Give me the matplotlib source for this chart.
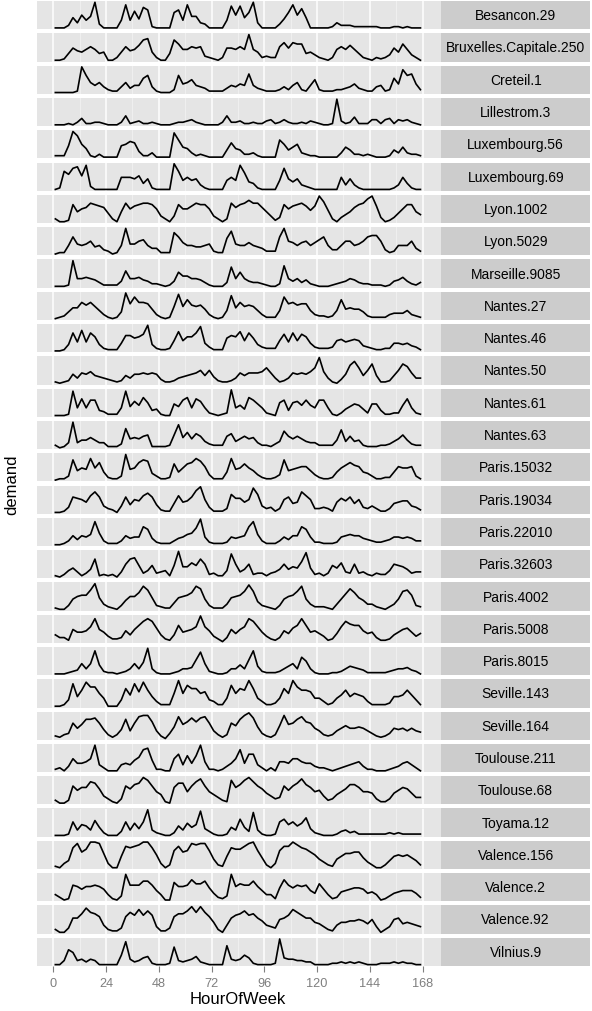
import numpy as np
import matplotlib
matplotlib.use("Agg")
import matplotlib.pyplot as plt

plt.rcParams['font.family'] = ['Liberation Sans', 'DejaVu Sans']

# readings every 2 hours (hour 1, 3, ... 167), one row per day, relative demand 0-20
hours = np.arange(1, 168, 2)

besancon_29 = [0, 0, 0, 2, 8, 4, 10, 6, 9, 20, 3, 0,
               0, 0, 0, 6, 18, 6, 13, 7, 16, 14, 1, 0,
               0, 0, 0, 12, 14, 6, 18, 9, 9, 4, 3, 0,
               0, 0, 0, 6, 17, 10, 17, 8, 12, 20, 4, 0,
               0, 0, 0, 3, 7, 12, 18, 10, 15, 8, 0, 0,
               0, 0, 0, 1, 4, 2, 2, 2, 1, 1, 1, 1,
               1, 1, 0, 0, 0, 1, 1, 0, 1, 0, 0, 0]
bruxelles_250 = [1, 1, 2, 6, 10, 8, 7, 9, 11, 9, 6, 7,
                 1, 1, 3, 7, 11, 8, 9, 12, 16, 17, 7, 3,
                 1, 1, 6, 16, 13, 9, 9, 11, 10, 11, 4, 3,
                 2, 1, 3, 10, 10, 9, 11, 9, 20, 9, 7, 3,
                 4, 3, 3, 11, 14, 10, 14, 13, 13, 6, 7, 5,
                 3, 2, 1, 3, 9, 11, 9, 12, 9, 6, 3, 2,
                 1, 3, 2, 3, 5, 10, 7, 13, 9, 5, 3, 1]
creteil_1 = [0, 0, 0, 0, 0, 1, 18, 12, 7, 5, 7, 4,
             2, 1, 1, 4, 7, 3, 5, 5, 10, 12, 4, 1,
             0, 0, 0, 2, 12, 6, 7, 9, 5, 4, 3, 1,
             1, 1, 1, 3, 5, 4, 6, 5, 13, 5, 3, 2,
             1, 1, 1, 2, 4, 2, 5, 7, 2, 1, 5, 9,
             2, 1, 1, 1, 2, 2, 3, 4, 6, 3, 2, 1,
             1, 4, 5, 1, 2, 10, 6, 16, 12, 13, 6, 2]
lillestrom_3 = [0, 0, 0, 1, 0, 2, 5, 1, 1, 2, 2, 1,
                0, 0, 0, 2, 7, 1, 2, 3, 1, 1, 2, 1,
                0, 0, 0, 1, 2, 2, 3, 4, 2, 1, 0, 0,
                0, 0, 2, 7, 2, 2, 3, 1, 1, 2, 1, 1,
                3, 4, 1, 2, 4, 2, 1, 1, 2, 1, 3, 2,
                1, 0, 0, 1, 20, 3, 1, 2, 6, 1, 1, 1,
                4, 4, 1, 4, 5, 1, 4, 3, 4, 2, 1, 0]
luxembourg_56 = [1, 1, 1, 8, 18, 15, 9, 6, 1, 0, 2, 0,
                 0, 0, 0, 8, 9, 11, 10, 4, 1, 1, 3, 0,
                 0, 0, 0, 17, 12, 7, 6, 3, 1, 2, 1, 0,
                 0, 0, 0, 5, 10, 6, 5, 2, 2, 3, 1, 0,
                 0, 0, 0, 12, 9, 5, 7, 9, 3, 2, 1, 1,
                 0, 0, 0, 0, 0, 3, 7, 5, 2, 2, 1, 2,
                 1, 0, 0, 0, 1, 5, 3, 7, 3, 2, 2, 1]
luxembourg_69 = [0, 1, 12, 10, 14, 15, 9, 16, 2, 0, 0, 0,
                 0, 0, 0, 8, 8, 8, 7, 9, 4, 7, 1, 0,
                 0, 0, 0, 17, 12, 6, 8, 6, 7, 3, 1, 0,
                 0, 0, 0, 6, 8, 6, 16, 11, 5, 4, 1, 0,
                 0, 0, 0, 6, 14, 7, 5, 7, 3, 2, 1, 0,
                 0, 0, 0, 0, 0, 8, 3, 7, 3, 1, 0, 0,
                 0, 0, 0, 0, 0, 1, 3, 8, 4, 1, 0, 0]
lyon_1002 = [3, 1, 1, 2, 13, 8, 10, 11, 14, 13, 12, 11,
             7, 3, 1, 8, 14, 10, 12, 13, 14, 14, 13, 10,
             5, 3, 1, 5, 13, 10, 10, 12, 14, 13, 13, 10,
             5, 3, 1, 3, 14, 11, 13, 14, 16, 14, 14, 11,
             8, 5, 2, 4, 13, 10, 12, 13, 14, 12, 9, 12,
             19, 15, 9, 3, 1, 4, 6, 8, 11, 13, 14, 17,
             19, 12, 4, 1, 2, 4, 7, 10, 13, 13, 8, 6]
lyon_5029 = [0, 1, 1, 6, 12, 7, 6, 7, 9, 5, 6, 3,
             2, 0, 1, 6, 18, 7, 7, 9, 10, 6, 4, 4,
             1, 1, 1, 15, 12, 8, 6, 6, 5, 5, 6, 7,
             2, 1, 1, 11, 16, 7, 6, 6, 8, 6, 5, 4,
             2, 2, 2, 12, 18, 9, 8, 6, 8, 9, 6, 8,
             10, 12, 6, 3, 3, 6, 9, 9, 6, 7, 9, 12,
             13, 13, 9, 3, 1, 2, 6, 6, 6, 9, 4, 2]
marseille_9085 = [0, 0, 0, 1, 20, 6, 6, 7, 6, 5, 3, 1,
                  1, 1, 1, 4, 12, 6, 6, 7, 5, 4, 2, 2,
                  1, 0, 1, 4, 11, 8, 8, 6, 6, 5, 3, 1,
                  0, 0, 0, 3, 15, 6, 11, 6, 4, 3, 3, 2,
                  1, 0, 0, 2, 16, 6, 4, 6, 3, 5, 2, 1,
                  0, 0, 0, 1, 2, 3, 4, 6, 5, 3, 2, 2,
                  1, 1, 1, 0, 1, 4, 5, 7, 4, 2, 1, 3]
nantes_27 = [0, 1, 2, 5, 8, 8, 12, 10, 12, 9, 6, 3,
             1, 0, 1, 5, 19, 11, 16, 12, 12, 11, 7, 3,
             1, 0, 1, 9, 18, 9, 14, 10, 9, 10, 7, 3,
             1, 0, 1, 6, 17, 8, 12, 9, 10, 9, 6, 3,
             1, 1, 1, 6, 16, 11, 12, 10, 11, 11, 6, 3,
             2, 2, 1, 2, 6, 14, 7, 8, 7, 7, 5, 2,
             1, 1, 1, 1, 3, 4, 4, 4, 6, 3, 2, 1]
nantes_46 = [0, 0, 1, 5, 14, 7, 16, 7, 14, 11, 5, 2,
             1, 1, 1, 6, 12, 12, 10, 11, 13, 20, 5, 2,
             1, 1, 2, 8, 15, 8, 11, 11, 14, 19, 6, 3,
             1, 1, 1, 10, 12, 11, 15, 8, 14, 10, 5, 3,
             2, 2, 2, 8, 13, 7, 14, 8, 13, 11, 6, 3,
             2, 2, 2, 3, 8, 9, 7, 8, 9, 8, 4, 3,
             2, 1, 1, 2, 2, 6, 6, 5, 6, 4, 3, 1]
nantes_50 = [1, 0, 1, 2, 7, 4, 8, 7, 9, 6, 5, 4,
             3, 2, 1, 2, 6, 4, 7, 7, 8, 7, 8, 7,
             3, 1, 1, 2, 4, 5, 6, 7, 8, 10, 6, 10,
             5, 2, 1, 1, 2, 4, 8, 6, 8, 8, 8, 9,
             12, 8, 4, 1, 2, 4, 8, 7, 8, 7, 9, 12,
             20, 9, 4, 1, 0, 3, 7, 14, 17, 12, 6, 10,
             15, 6, 1, 1, 2, 6, 10, 15, 13, 8, 4, 4]
nantes_61 = [0, 0, 0, 1, 19, 6, 13, 6, 12, 12, 4, 3,
             1, 1, 1, 6, 19, 7, 11, 8, 14, 10, 4, 5,
             1, 0, 0, 9, 7, 12, 14, 6, 13, 11, 6, 2,
             1, 0, 1, 2, 20, 6, 8, 5, 14, 12, 9, 6,
             2, 1, 0, 10, 12, 4, 10, 11, 8, 12, 8, 6,
             12, 12, 6, 1, 0, 2, 5, 7, 9, 8, 5, 2,
             9, 9, 4, 1, 1, 2, 2, 8, 13, 6, 2, 1]
nantes_63 = [2, 0, 1, 4, 20, 4, 6, 6, 8, 6, 4, 4,
             1, 1, 1, 3, 15, 7, 8, 7, 9, 10, 1, 1,
             1, 1, 2, 10, 18, 8, 12, 7, 11, 9, 5, 3,
             2, 2, 2, 9, 11, 5, 7, 9, 7, 8, 4, 2,
             2, 1, 3, 5, 13, 9, 7, 9, 7, 5, 4, 4,
             2, 2, 2, 2, 6, 14, 5, 9, 5, 6, 2, 1,
             1, 1, 2, 2, 3, 5, 7, 10, 6, 3, 2, 2]
paris_15032 = [0, 1, 1, 3, 15, 7, 9, 8, 16, 9, 13, 6,
               2, 1, 1, 3, 19, 8, 9, 13, 15, 14, 5, 3,
               1, 1, 2, 12, 6, 9, 12, 13, 16, 14, 10, 4,
               1, 1, 1, 6, 16, 8, 9, 12, 9, 7, 4, 2,
               1, 1, 2, 4, 15, 7, 8, 9, 10, 10, 7, 4,
               2, 1, 1, 2, 6, 9, 11, 13, 11, 10, 6, 5,
               3, 1, 1, 2, 2, 6, 10, 9, 9, 10, 3, 1]
paris_19034 = [0, 0, 1, 4, 12, 11, 10, 8, 13, 16, 12, 5,
               3, 2, 0, 5, 12, 6, 10, 9, 13, 15, 12, 6,
               2, 1, 1, 7, 13, 8, 9, 12, 17, 20, 10, 4,
               1, 1, 1, 3, 14, 11, 11, 8, 10, 19, 14, 5,
               3, 4, 1, 3, 10, 12, 7, 8, 16, 13, 10, 3,
               3, 4, 3, 1, 8, 11, 9, 12, 7, 10, 4, 3,
               5, 3, 1, 1, 3, 7, 8, 9, 9, 5, 4, 2]
paris_22010 = [0, 0, 1, 3, 7, 4, 7, 6, 8, 18, 9, 3,
               1, 1, 1, 3, 7, 5, 6, 6, 14, 12, 5, 2,
               1, 1, 1, 3, 5, 6, 8, 9, 13, 20, 6, 2,
               1, 1, 1, 2, 6, 5, 6, 7, 14, 18, 8, 3,
               1, 1, 1, 3, 6, 4, 7, 7, 14, 12, 6, 2,
               2, 1, 1, 1, 2, 6, 7, 8, 7, 7, 5, 4,
               3, 2, 2, 3, 4, 6, 6, 5, 6, 5, 3, 3]
paris_32603 = [1, 0, 2, 5, 7, 4, 1, 3, 6, 14, 1, 2,
               1, 2, 0, 4, 10, 14, 15, 9, 3, 5, 9, 3,
               4, 5, 1, 9, 20, 8, 8, 11, 9, 14, 10, 2,
               3, 1, 1, 5, 18, 10, 4, 6, 10, 2, 3, 3,
               1, 3, 4, 6, 10, 6, 8, 7, 12, 19, 7, 2,
               3, 1, 3, 9, 7, 11, 4, 3, 10, 3, 4, 2,
               1, 3, 2, 2, 5, 10, 9, 8, 6, 3, 4, 4]
paris_4002 = [1, 0, 0, 3, 8, 10, 11, 11, 15, 20, 9, 4,
              2, 1, 0, 3, 7, 10, 10, 13, 18, 15, 9, 3,
              2, 1, 1, 5, 9, 10, 11, 13, 18, 16, 8, 3,
              1, 1, 1, 4, 9, 10, 11, 14, 19, 14, 6, 3,
              2, 1, 0, 3, 8, 10, 11, 14, 18, 8, 4, 2,
              2, 2, 1, 0, 4, 8, 12, 16, 13, 9, 7, 4,
              4, 2, 1, 0, 2, 4, 8, 14, 15, 11, 3, 2]
paris_5008 = [5, 3, 3, 1, 9, 7, 7, 8, 11, 17, 9, 7,
              4, 2, 2, 3, 8, 5, 9, 12, 15, 17, 15, 10,
              5, 2, 1, 5, 12, 7, 8, 9, 11, 19, 11, 8,
              4, 2, 0, 3, 9, 6, 9, 11, 17, 15, 11, 7,
              4, 2, 1, 3, 8, 6, 10, 12, 17, 12, 7, 8,
              6, 4, 1, 2, 6, 11, 15, 13, 12, 12, 8, 6,
              7, 3, 1, 1, 2, 5, 7, 9, 10, 7, 4, 6]
paris_8015 = [0, 0, 0, 1, 2, 3, 8, 4, 8, 18, 7, 2,
              1, 1, 0, 1, 2, 4, 8, 4, 9, 20, 4, 1,
              0, 0, 0, 1, 2, 4, 4, 5, 11, 17, 8, 2,
              1, 0, 0, 1, 4, 4, 7, 4, 11, 18, 6, 2,
              1, 1, 1, 2, 4, 6, 8, 4, 13, 10, 4, 1,
              0, 0, 0, 1, 1, 2, 4, 6, 5, 4, 3, 1,
              1, 1, 1, 1, 2, 3, 4, 4, 5, 3, 2, 0]
seville_143 = [0, 0, 1, 4, 14, 6, 10, 15, 12, 12, 8, 5,
               0, 0, 0, 4, 11, 7, 14, 9, 15, 10, 6, 3,
               1, 1, 1, 8, 16, 8, 13, 11, 11, 8, 9, 4,
               3, 1, 1, 5, 13, 8, 11, 10, 16, 11, 5, 3,
               1, 1, 2, 5, 11, 8, 16, 12, 10, 10, 9, 5,
               5, 3, 1, 2, 5, 7, 10, 6, 8, 7, 6, 3,
               1, 1, 1, 1, 2, 6, 6, 7, 10, 7, 4, 1]
seville_164 = [2, 1, 3, 4, 12, 8, 11, 15, 15, 16, 12, 7,
               3, 1, 3, 7, 15, 6, 12, 17, 18, 18, 13, 6,
               2, 0, 4, 9, 17, 11, 13, 16, 13, 16, 17, 12,
               6, 3, 1, 3, 12, 10, 15, 18, 20, 16, 9, 4,
               2, 1, 3, 10, 18, 11, 12, 15, 17, 13, 12, 8,
               6, 3, 2, 3, 6, 8, 10, 8, 8, 9, 8, 6,
               4, 2, 1, 2, 4, 8, 7, 8, 6, 8, 6, 5]
toulouse_211 = [1, 2, 0, 3, 8, 5, 5, 6, 8, 17, 4, 2,
                0, 0, 0, 4, 5, 4, 7, 9, 14, 15, 7, 1,
                1, 0, 0, 8, 11, 4, 10, 5, 10, 17, 6, 1,
                1, 0, 1, 3, 5, 8, 14, 5, 11, 11, 4, 2,
                0, 2, 0, 6, 6, 5, 8, 8, 6, 5, 5, 3,
                2, 2, 1, 0, 1, 2, 3, 4, 5, 6, 3, 1,
                1, 0, 0, 0, 1, 2, 3, 5, 6, 4, 2, 0]
toulouse_68 = [3, 1, 1, 3, 13, 10, 12, 12, 16, 15, 11, 6,
               4, 2, 1, 4, 13, 11, 14, 15, 19, 17, 13, 9,
               7, 2, 1, 12, 15, 15, 9, 13, 16, 18, 13, 9,
               7, 5, 3, 2, 17, 12, 14, 17, 19, 16, 13, 11,
               8, 6, 4, 5, 13, 10, 13, 15, 18, 14, 12, 9,
               10, 6, 3, 4, 7, 9, 11, 14, 14, 12, 9, 9,
               8, 4, 2, 2, 4, 8, 10, 12, 11, 8, 5, 5]
toyama_12 = [0, 0, 0, 1, 10, 4, 8, 7, 4, 11, 6, 2,
             0, 0, 0, 3, 10, 4, 9, 5, 10, 19, 4, 2,
             1, 0, 0, 2, 7, 4, 9, 6, 8, 18, 5, 3,
             1, 0, 0, 1, 6, 4, 12, 6, 3, 17, 4, 1,
             0, 0, 1, 10, 12, 8, 10, 7, 9, 13, 5, 2,
             1, 0, 0, 0, 1, 3, 4, 2, 3, 1, 1, 1,
             1, 1, 1, 1, 2, 1, 2, 1, 1, 1, 1, 1]
valence_156 = [1, 0, 3, 5, 14, 17, 11, 13, 18, 18, 17, 10,
               3, 0, 0, 8, 15, 14, 15, 16, 18, 18, 14, 9,
               3, 0, 2, 12, 15, 11, 12, 17, 16, 17, 17, 12,
               6, 2, 1, 8, 14, 13, 13, 15, 17, 18, 12, 7,
               2, 0, 3, 12, 15, 15, 18, 16, 14, 13, 11, 9,
               6, 4, 2, 1, 6, 8, 10, 10, 11, 11, 7, 4,
               2, 0, 0, 2, 5, 8, 9, 8, 9, 7, 5, 2]
valence_2 = [5, 3, 1, 2, 12, 11, 9, 11, 11, 12, 11, 9,
             5, 2, 1, 4, 20, 12, 12, 12, 15, 15, 12, 8,
             5, 1, 1, 14, 11, 11, 12, 16, 13, 13, 15, 10,
             6, 3, 2, 4, 20, 11, 13, 12, 12, 15, 11, 8,
             5, 5, 2, 10, 16, 12, 10, 12, 11, 12, 8, 6,
             13, 9, 5, 2, 3, 7, 8, 9, 10, 10, 9, 6,
             7, 5, 1, 2, 4, 6, 7, 8, 8, 8, 6, 3]
valence_92 = [3, 1, 1, 4, 11, 11, 14, 18, 15, 14, 12, 6,
              3, 2, 2, 4, 12, 15, 13, 17, 13, 16, 13, 5,
              2, 2, 4, 12, 14, 14, 16, 19, 15, 19, 15, 12,
              8, 3, 1, 6, 11, 13, 14, 16, 13, 14, 11, 9,
              6, 5, 4, 10, 11, 13, 17, 15, 13, 11, 11, 8,
              7, 5, 3, 2, 6, 8, 8, 9, 9, 10, 9, 7,
              10, 5, 1, 3, 5, 10, 11, 7, 8, 7, 6, 5]
vilnius_9 = [1, 1, 4, 12, 10, 4, 5, 3, 5, 4, 1, 1,
             1, 1, 1, 8, 18, 5, 3, 4, 6, 7, 2, 1,
             1, 1, 2, 14, 4, 3, 4, 5, 7, 3, 2, 1,
             1, 1, 1, 15, 5, 4, 5, 8, 6, 2, 1, 1,
             1, 1, 2, 20, 6, 5, 5, 4, 4, 3, 3, 1,
             1, 1, 1, 2, 2, 3, 2, 3, 2, 3, 2, 1,
             1, 1, 2, 2, 2, 3, 2, 3, 2, 2, 1, 1]

station_names = ["Besancon.29", "Bruxelles.Capitale.250", "Creteil.1", "Lillestrom.3",
                 "Luxembourg.56", "Luxembourg.69", "Lyon.1002", "Lyon.5029",
                 "Marseille.9085", "Nantes.27", "Nantes.46", "Nantes.50", "Nantes.61",
                 "Nantes.63", "Paris.15032", "Paris.19034", "Paris.22010", "Paris.32603",
                 "Paris.4002", "Paris.5008", "Paris.8015", "Seville.143", "Seville.164",
                 "Toulouse.211", "Toulouse.68", "Toyama.12", "Valence.156", "Valence.2",
                 "Valence.92", "Vilnius.9"]
station_values = [besancon_29, bruxelles_250, creteil_1, lillestrom_3, luxembourg_56,
                  luxembourg_69, lyon_1002, lyon_5029, marseille_9085, nantes_27,
                  nantes_46, nantes_50, nantes_61, nantes_63, paris_15032, paris_19034,
                  paris_22010, paris_32603, paris_4002, paris_5008, paris_8015,
                  seville_143, seville_164, toulouse_211, toulouse_68, toyama_12,
                  valence_156, valence_2, valence_92, vilnius_9]

W, H = 592, 1012
fig = plt.figure(figsize=(W / 100, H / 100), dpi=100)

# panel geometry in pixels
px_left, px_right = 37, 441
strip_left, strip_right = 441.5, 590
top0, pitch, ph = 2, 32.3, 28.2
xlo, xhi = 1 - 8.35, 168 + 8.35

n = len(station_names)
for i, (name, vals) in enumerate(zip(station_names, station_values)):
    top = top0 + i * pitch
    bottom = 1 - (top + ph) / H
    ax = fig.add_axes([px_left / W, bottom, (px_right - px_left) / W, ph / H])
    ax.set_facecolor('#E5E5E5')
    v = np.array(vals, dtype=float)
    rng = v.max() - v.min()
    ax.plot(hours, v, color='black', lw=1.2, solid_joinstyle='round')
    ax.set_xlim(xlo, xhi)
    ax.set_ylim(v.min() - 0.05 * rng, v.max() + 0.05 * rng)
    ax.set_xticks(np.arange(0, 169, 24))
    ax.set_xticks(np.arange(12, 169, 24), minor=True)
    ax.grid(which='major', axis='x', color='white', lw=1.1)
    ax.grid(which='minor', axis='x', color='#F2F2F2', lw=0.6)
    ax.set_axisbelow(True)
    ax.set_yticks([])
    for s in ax.spines.values():
        s.set_visible(False)
    ax.tick_params(which='minor', length=0)
    if i == n - 1:
        ax.tick_params(which='major', axis='x', length=4, width=0.8, color='#7F7F7F',
                       labelcolor='#7F7F7F', labelsize=9.2, pad=4)
    else:
        ax.tick_params(which='major', axis='x', length=0, labelbottom=False)

    sx = fig.add_axes([strip_left / W, bottom, (strip_right - strip_left) / W, ph / H])
    sx.set_facecolor('#CCCCCC')
    sx.set_xticks([])
    sx.set_yticks([])
    for s in sx.spines.values():
        s.set_visible(False)
    sx.text(0.5, 0.5, name, ha='center', va='center', fontsize=10, color='black',
            transform=sx.transAxes)

fig.text((53 + 422.6) / 2 / W, 1 - 1000 / H, "HourOfWeek", ha='center', va='center',
         fontsize=12)
fig.text(12 / W, 1 - 485 / H, "demand", ha='center', va='center', rotation=90,
         fontsize=12)

fig.savefig("out.png", dpi=100, facecolor='white')
